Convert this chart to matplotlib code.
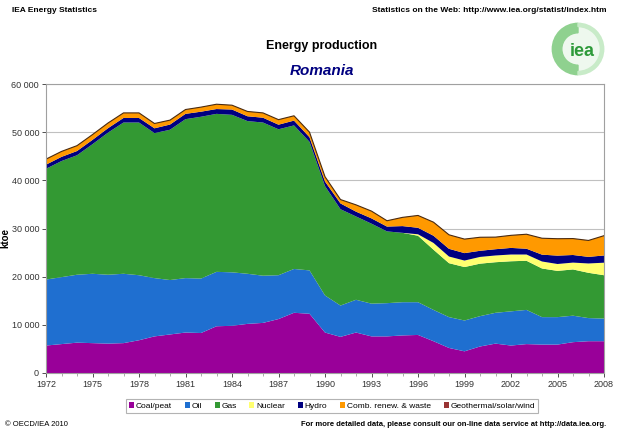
import matplotlib
matplotlib.use("Agg")
import matplotlib.pyplot as plt
from matplotlib.patches import Patch, Circle, Wedge
import matplotlib.ticker as mticker

plt.rcParams['font.family'] = ['Liberation Sans', 'DejaVu Sans']

years = list(range(1972, 2009))

coal = [5700, 6000, 6300, 6200, 6100, 6200, 6800, 7600, 8000, 8400, 8300, 9700,
        9800, 10200, 10400, 11200, 12500, 12300,
        8400, 7500, 8400, 7600, 7600, 7800, 7900, 6600, 5200, 4500, 5500, 6100,
        5700, 6000, 5900, 5900, 6400, 6600, 6600]
oil = [13700, 13900, 14100, 14400, 14300, 14400, 13500, 12100, 11300, 11300, 11300,
       11300, 11100, 10400, 9800, 9100, 9100, 9000,
       7700, 6500, 6800, 6800, 6900, 6900, 6800, 6500, 6400, 6400, 6300, 6400,
       7100, 7100, 5700, 5700, 5500, 4800, 4700]
gas = [23000, 24100, 24800, 26900, 29500, 31400, 31700, 30100, 31200, 33000, 33600,
       32800, 32700, 31700, 31800, 30300, 29800, 26700,
       22700, 20000, 17300, 16600, 14900, 14400, 13800, 12500, 11200, 11100, 10900,
       10500, 10400, 10200, 10100, 9600, 9600, 9400, 9000]
nuclear = [0] * 24 + [300, 1400, 1380, 1340, 1400, 1400, 1400, 1300, 1450, 1430,
                      1420, 1940, 2600]
hydro = [850, 870, 880, 900, 920, 950, 950, 1000, 1080, 1100, 1050, 1000, 1100,
         1000, 1000, 950, 1000, 950,
         950, 1200, 1000, 1100, 1000, 1400, 1350, 1500, 1600, 1550, 1270, 1300,
         1370, 1200, 1420, 1740, 1580, 1370, 1500]
renew = [1150, 1130, 1120, 1100, 1080, 1050, 1050, 1000, 920, 900, 950, 1000, 900,
         1000, 1000, 1050, 1000, 1050,
         1000, 800, 1400, 1500, 1200, 1800, 2550, 2800, 2900, 2900, 2800, 2500,
         2600, 3000, 3400, 3500, 3400, 3400, 4100]
geo = [0] * 18 + [10] * 19

labels = ["Coal/peat", "Oil", "Gas", "Nuclear", "Hydro",
          "Comb. renew. & waste", "Geothermal/solar/wind"]
colors = ["#990099", "#1f6fd0", "#339933", "#ffff70", "#000080",
          "#ff9900", "#993333"]
series = [coal, oil, gas, nuclear, hydro, renew, geo]

fig = plt.figure(figsize=(6.21, 4.34), dpi=100)
ax = fig.add_axes([46/621, 1-373/434, (604-46)/621, (373-84)/434])

ax.stackplot(years, *series, colors=colors, linewidth=0)
total = [sum(v) for v in zip(*series)]
ax.plot(years, total, color="#4a2a10", linewidth=0.8)

ax.set_xlim(1972, 2008)
ax.set_ylim(0, 60000)
ax.set_xticks(list(range(1972, 2009, 3)))
ax.set_xticks(years, minor=True)
ax.yaxis.set_major_locator(mticker.MultipleLocator(10000))
ax.yaxis.set_major_formatter(mticker.FuncFormatter(
    lambda v, p: f"{int(v):,}".replace(",", " ")))
ax.tick_params(axis='both', labelsize=6.5, colors="#333333", length=3,
               width=0.6, pad=2)
ax.tick_params(axis='x', which='minor', length=2, width=0.5, colors="#888888")
ax.grid(axis='y', color="#c0c0c0", linewidth=0.8)
ax.set_axisbelow(True)
for s in ax.spines.values():
    s.set_color("#a0a0a0")
    s.set_linewidth(0.8)
ax.set_ylabel("ktoe", fontsize=7, fontweight='bold')
ax.yaxis.set_label_coords((10-46)/558, (373-238)/289)

# header texts
fig.text(12/621, 1-10/434, "IEA Energy Statistics", fontsize=6,
         fontweight='bold', va='center', ha='left')
fig.text(607/621, 1-10/434,
         "Statistics on the Web: http://www.iea.org/statist/index.htm",
         fontsize=6, fontweight='bold', va='center', ha='right')
fig.text(322/621, 1-46/434, "Energy production", fontsize=9,
         fontweight='bold', va='center', ha='center')
fig.text(322/621, 1-71/434, "Romania", fontsize=11, fontweight='bold',
         fontstyle='italic', color="#000080", va='center', ha='center')

# footer texts
fig.text(5/621, 1-425/434, "\u00a9 OECD/IEA 2010", fontsize=5.5,
         va='center', ha='left')
fig.text(606/621, 1-425/434,
         "For more detailed data, please consult our on-line data service at http://data.iea.org.",
         fontsize=5.5, fontweight='bold', va='center', ha='right')

# IEA logo
lax = fig.add_axes([551/621, 1-76/434, 54/621, 54/434])
lax.set_xlim(-1, 1)
lax.set_ylim(-1, 1)
lax.set_aspect('equal')
lax.axis('off')
lax.add_patch(Circle((0, 0), 0.95, color="#eef8ee"))
lax.add_patch(Wedge((0, 0), 0.95, 90, 270, width=0.35, color="#8fd18f"))
lax.add_patch(Wedge((0, 0), 0.95, 270, 90, width=0.12, color="#c8ebc8"))
lax.text(0.15, -0.08, "iea", fontsize=13, fontweight='bold', color="#2e9a3a",
         ha='center', va='center')

handles = [Patch(facecolor=c, edgecolor='none') for c in colors]
leg = fig.legend(handles, labels, loc='center', ncol=7,
                 bbox_to_anchor=(332/621, 1-406/434), fontsize=6,
                 handlelength=0.6, handleheight=0.6, handletextpad=0.2,
                 columnspacing=1.55, frameon=True, fancybox=False,
                 borderpad=0.4)
leg.get_frame().set_edgecolor("#a0a0a0")
leg.get_frame().set_linewidth(0.8)

fig.savefig("out.png", dpi=100)
